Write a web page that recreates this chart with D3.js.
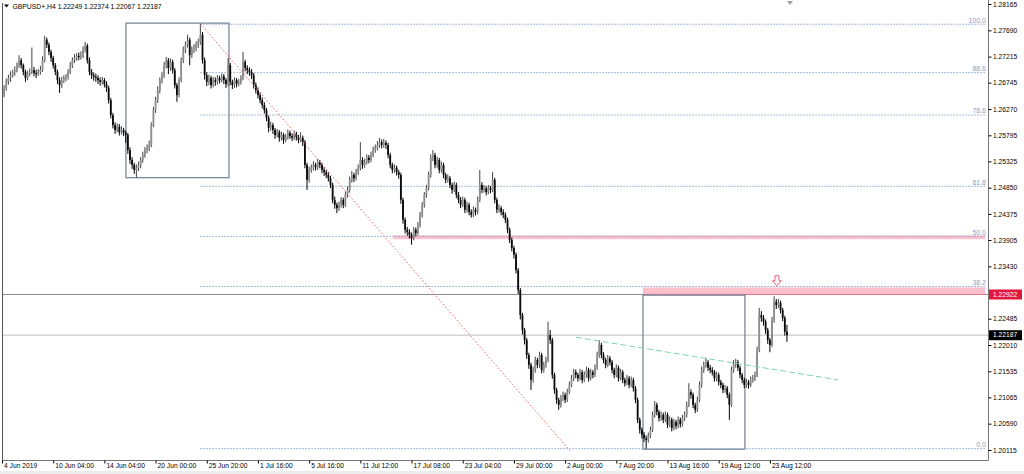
<!DOCTYPE html>
<html><head><meta charset="utf-8">
<script src="https://cdn.jsdelivr.net/npm/d3@7"></script>
<style>
html,body{margin:0;padding:0;background:#fff;}
svg{display:block;font-family:"Liberation Sans",Arial,sans-serif;}
</style></head><body>
<svg id="c" width="1024" height="474"></svg>
<script>
const symbolTitle = "GBPUSD+,H4";
const lastQuote = ["1.22249","1.22374","1.22067","1.22187"];

const opens = [
1.2641,1.2652,1.2665,1.2676,1.2683,1.2688,1.2694,1.2697,1.2705,1.2715,
1.2706,1.2694,1.2683,1.2690,1.2694,1.2697,1.2692,1.2690,1.2694,1.2697,
1.2715,1.2752,1.2743,1.2730,1.2719,1.2706,1.2694,1.2679,1.2670,1.2679,
1.2683,1.2685,1.2694,1.2706,1.2715,1.2719,1.2723,1.2721,1.2724,1.2734,
1.2741,1.2715,1.2694,1.2688,1.2685,1.2683,1.2679,1.2676,1.2679,1.2672,
1.2665,1.2643,1.2616,1.2598,1.2589,1.2595,1.2585,1.2589,1.2584,1.2580,
1.2553,1.2535,1.2526,1.2517,1.2521,1.2526,1.2535,1.2544,1.2553,1.2557,
1.2562,1.2598,1.2625,1.2643,1.2661,1.2679,1.2688,1.2706,1.2715,1.2701,
1.2712,1.2697,1.2670,1.2652,1.2679,1.2715,1.2734,1.2743,1.2752,1.2724,
1.2734,1.2737,1.2743,1.2748,1.2761,1.2715,1.2688,1.2676,1.2683,1.2670,
1.2679,1.2676,1.2683,1.2679,1.2686,1.2679,1.2672,1.2706,1.2676,1.2670,
1.2679,1.2672,1.2676,1.2683,1.2712,1.2701,1.2697,1.2694,1.2688,1.2670,
1.2661,1.2652,1.2643,1.2634,1.2625,1.2611,1.2593,1.2598,1.2589,1.2580,
1.2585,1.2575,1.2580,1.2571,1.2576,1.2584,1.2578,1.2575,1.2582,1.2576,
1.2571,1.2575,1.2567,1.2526,1.2499,1.2517,1.2521,1.2526,1.2522,1.2531,
1.2526,1.2517,1.2513,1.2508,1.2502,1.2490,1.2463,1.2454,1.2448,1.2454,
1.2463,1.2454,1.2472,1.2481,1.2499,1.2508,1.2502,1.2513,1.2521,1.2535,
1.2526,1.2531,1.2539,1.2535,1.2544,1.2553,1.2557,1.2562,1.2567,1.2562,
1.2566,1.2562,1.2544,1.2526,1.2517,1.2521,1.2513,1.2508,1.2463,1.2427,
1.2409,1.2405,1.2400,1.2394,1.2409,1.2403,1.2418,1.2436,1.2454,1.2472,
1.2484,1.2508,1.2539,1.2544,1.2526,1.2535,1.2517,1.2526,1.2508,1.2499,
1.2502,1.2490,1.2481,1.2490,1.2472,1.2463,1.2454,1.2463,1.2445,1.2454,
1.2441,1.2436,1.2445,1.2441,1.2463,1.2490,1.2481,1.2484,1.2477,1.2484,
1.2481,1.2499,1.2463,1.2445,1.2448,1.2441,1.2436,1.2427,1.2409,1.2391,
1.2376,1.2364,1.2336,1.2300,1.2255,1.2228,1.2210,1.2183,1.2165,1.2138,
1.2156,1.2174,1.2165,1.2183,1.2156,1.2165,1.2174,1.2219,1.2210,1.2147,
1.2120,1.2102,1.2093,1.2105,1.2111,1.2102,1.2116,1.2129,1.2141,1.2152,
1.2147,1.2141,1.2152,1.2138,1.2147,1.2156,1.2141,1.2152,1.2147,1.2160,
1.2183,1.2201,1.2183,1.2174,1.2165,1.2177,1.2170,1.2156,1.2147,1.2160,
1.2141,1.2152,1.2138,1.2132,1.2141,1.2129,1.2138,1.2123,1.2102,1.2066,
1.2048,1.2039,1.2033,1.2030,1.2037,1.2048,1.2075,1.2093,1.2080,1.2069,
1.2075,1.2066,1.2075,1.2057,1.2066,1.2051,1.2062,1.2055,1.2066,1.2058,
1.2069,1.2075,1.2093,1.2116,1.2111,1.2093,1.2084,1.2102,1.2129,1.2156,
1.2165,1.2170,1.2160,1.2156,1.2152,1.2141,1.2147,1.2134,1.2129,1.2120,
1.2123,1.2111,1.2093,1.2156,1.2165,1.2170,1.2160,1.2147,1.2138,1.2129,
1.2134,1.2129,1.2138,1.2141,1.2147,1.2192,1.2255,1.2250,1.2243,1.2228,
1.2210,1.2201,1.2246,1.2279,1.2273,1.2277,1.2264,1.2250,1.22249];

const highs = [
1.2665,1.2670,1.2682,1.2689,1.2695,1.2698,1.2704,1.2711,1.2724,1.2719,
1.2709,1.2698,1.2696,1.2700,1.2738,1.2703,1.2698,1.2699,1.2705,1.2722,
1.2759,1.2756,1.2747,1.2734,1.2723,1.2710,1.2698,1.2684,1.2685,1.2688,
1.2690,1.2699,1.2712,1.2720,1.2726,1.2728,1.2729,1.2731,1.2740,1.2748,
1.2745,1.2720,1.2699,1.2693,1.2691,1.2688,1.2684,1.2685,1.2683,1.2677,
1.2669,1.2647,1.2620,1.2603,1.2601,1.2600,1.2596,1.2593,1.2588,1.2584,
1.2558,1.2540,1.2530,1.2527,1.2532,1.2540,1.2550,1.2558,1.2563,1.2570,
1.2603,1.2631,1.2649,1.2668,1.2684,1.2694,1.2712,1.2721,1.2719,1.2718,
1.2716,1.2701,1.2674,1.2684,1.2720,1.2740,1.2749,1.2761,1.2756,1.2740,
1.2744,1.2749,1.2754,1.2781,1.2766,1.2720,1.2693,1.2689,1.2687,1.2685,
1.2684,1.2688,1.2687,1.2691,1.2690,1.2683,1.2719,1.2710,1.2680,1.2684,
1.2683,1.2681,1.2688,1.2730,1.2716,1.2706,1.2702,1.2699,1.2692,1.2675,
1.2666,1.2657,1.2648,1.2639,1.2629,1.2615,1.2604,1.2602,1.2593,1.2591,
1.2589,1.2586,1.2584,1.2582,1.2590,1.2588,1.2583,1.2588,1.2586,1.2580,
1.2585,1.2579,1.2571,1.2530,1.2523,1.2527,1.2533,1.2530,1.2537,1.2535,
1.2530,1.2522,1.2517,1.2513,1.2506,1.2494,1.2469,1.2458,1.2460,1.2468,
1.2467,1.2478,1.2487,1.2505,1.2515,1.2512,1.2519,1.2527,1.2567,1.2540,
1.2537,1.2545,1.2544,1.2550,1.2559,1.2563,1.2569,1.2575,1.2572,1.2573,
1.2570,1.2566,1.2548,1.2530,1.2527,1.2525,1.2517,1.2512,1.2467,1.2431,
1.2414,1.2410,1.2404,1.2414,1.2413,1.2423,1.2441,1.2459,1.2477,1.2490,
1.2514,1.2545,1.2553,1.2548,1.2541,1.2539,1.2532,1.2530,1.2512,1.2509,
1.2506,1.2494,1.2496,1.2494,1.2477,1.2468,1.2469,1.2467,1.2460,1.2458,
1.2446,1.2451,1.2449,1.2469,1.2517,1.2495,1.2490,1.2488,1.2490,1.2488,
1.2513,1.2503,1.2467,1.2455,1.2452,1.2446,1.2440,1.2431,1.2413,1.2395,
1.2380,1.2368,1.2340,1.2304,1.2259,1.2232,1.2214,1.2187,1.2169,1.2162,
1.2180,1.2178,1.2189,1.2187,1.2171,1.2180,1.2243,1.2228,1.2214,1.2151,
1.2124,1.2106,1.2111,1.2117,1.2115,1.2122,1.2135,1.2147,1.2158,1.2157,
1.2151,1.2158,1.2156,1.2153,1.2162,1.2160,1.2158,1.2156,1.2166,1.2189,
1.2210,1.2205,1.2188,1.2178,1.2183,1.2181,1.2174,1.2160,1.2166,1.2164,
1.2158,1.2156,1.2142,1.2147,1.2145,1.2144,1.2142,1.2127,1.2106,1.2070,
1.2052,1.2044,1.2038,1.2043,1.2054,1.2081,1.2100,1.2097,1.2084,1.2081,
1.2079,1.2081,1.2079,1.2072,1.2070,1.2068,1.2066,1.2072,1.2070,1.2075,
1.2081,1.2099,1.2132,1.2121,1.2115,1.2097,1.2108,1.2135,1.2162,1.2171,
1.2178,1.2174,1.2165,1.2161,1.2156,1.2153,1.2151,1.2138,1.2133,1.2129,
1.2127,1.2115,1.2162,1.2174,1.2176,1.2174,1.2164,1.2151,1.2142,1.2140,
1.2138,1.2144,1.2147,1.2153,1.2198,1.2268,1.2262,1.2255,1.2247,1.2232,
1.2214,1.2252,1.2289,1.2284,1.2284,1.2281,1.2268,1.2254,1.22374];

const lows = [
1.2638,1.2648,1.2660,1.2671,1.2676,1.2684,1.2687,1.2693,1.2701,1.2700,
1.2688,1.2676,1.2679,1.2686,1.2690,1.2686,1.2683,1.2687,1.2689,1.2694,
1.2711,1.2737,1.2724,1.2712,1.2700,1.2688,1.2672,1.2656,1.2665,1.2674,
1.2677,1.2680,1.2690,1.2701,1.2710,1.2714,1.2715,1.2716,1.2719,1.2729,
1.2709,1.2688,1.2681,1.2678,1.2676,1.2672,1.2669,1.2671,1.2666,1.2658,
1.2637,1.2610,1.2592,1.2582,1.2585,1.2579,1.2581,1.2578,1.2566,1.2546,
1.2528,1.2519,1.2510,1.2503,1.2515,1.2520,1.2530,1.2539,1.2547,1.2551,
1.2558,1.2594,1.2620,1.2638,1.2655,1.2673,1.2683,1.2700,1.2690,1.2696,
1.2691,1.2664,1.2640,1.2648,1.2675,1.2710,1.2728,1.2738,1.2706,1.2719,
1.2728,1.2731,1.2737,1.2743,1.2709,1.2680,1.2668,1.2670,1.2664,1.2666,
1.2669,1.2671,1.2673,1.2675,1.2672,1.2665,1.2668,1.2670,1.2663,1.2665,
1.2666,1.2668,1.2671,1.2679,1.2695,1.2690,1.2687,1.2681,1.2664,1.2655,
1.2646,1.2637,1.2628,1.2619,1.2605,1.2585,1.2588,1.2582,1.2573,1.2576,
1.2568,1.2570,1.2564,1.2567,1.2572,1.2573,1.2569,1.2571,1.2570,1.2565,
1.2567,1.2560,1.2520,1.2481,1.2494,1.2512,1.2516,1.2516,1.2517,1.2520,
1.2511,1.2506,1.2502,1.2496,1.2484,1.2457,1.2447,1.2439,1.2443,1.2449,
1.2448,1.2450,1.2467,1.2476,1.2494,1.2495,1.2498,1.2508,1.2516,1.2519,
1.2521,1.2527,1.2529,1.2531,1.2540,1.2548,1.2552,1.2557,1.2556,1.2557,
1.2555,1.2538,1.2520,1.2511,1.2512,1.2507,1.2501,1.2456,1.2420,1.2402,
1.2398,1.2393,1.2382,1.2390,1.2397,1.2399,1.2413,1.2431,1.2449,1.2467,
1.2480,1.2503,1.2533,1.2520,1.2521,1.2511,1.2512,1.2502,1.2493,1.2494,
1.2484,1.2474,1.2477,1.2466,1.2457,1.2448,1.2450,1.2439,1.2440,1.2435,
1.2431,1.2432,1.2435,1.2437,1.2459,1.2475,1.2476,1.2471,1.2473,1.2475,
1.2477,1.2457,1.2439,1.2440,1.2435,1.2430,1.2421,1.2403,1.2385,1.2370,
1.2357,1.2330,1.2293,1.2247,1.2220,1.2202,1.2176,1.2158,1.2120,1.2133,
1.2151,1.2159,1.2160,1.2150,1.2151,1.2160,1.2170,1.2203,1.2140,1.2113,
1.2095,1.2084,1.2088,1.2100,1.2096,1.2098,1.2112,1.2125,1.2136,1.2141,
1.2135,1.2137,1.2132,1.2134,1.2142,1.2135,1.2137,1.2141,1.2143,1.2156,
1.2178,1.2177,1.2168,1.2159,1.2161,1.2164,1.2150,1.2141,1.2143,1.2135,
1.2137,1.2132,1.2126,1.2128,1.2123,1.2125,1.2117,1.2096,1.2060,1.2041,
1.2032,1.2026,1.2014,1.2025,1.2033,1.2044,1.2070,1.2074,1.2063,1.2064,
1.2060,1.2062,1.2051,1.2053,1.2045,1.2047,1.2049,1.2051,1.2052,1.2054,
1.2064,1.2070,1.2089,1.2104,1.2087,1.2078,1.2080,1.2098,1.2124,1.2151,
1.2160,1.2154,1.2150,1.2146,1.2135,1.2136,1.2128,1.2123,1.2114,1.2115,
1.2105,1.2066,1.2089,1.2151,1.2160,1.2154,1.2141,1.2132,1.2123,1.2124,
1.2122,1.2125,1.2133,1.2136,1.2143,1.2188,1.2243,1.2236,1.2221,1.2203,
1.2188,1.2197,1.2241,1.2266,1.2268,1.2258,1.2244,1.2218,1.22067];

const closes = [
1.2652,1.2665,1.2676,1.2683,1.2688,1.2694,1.2697,1.2705,1.2715,1.2706,
1.2694,1.2683,1.2690,1.2694,1.2697,1.2692,1.2690,1.2694,1.2697,1.2715,
1.2752,1.2743,1.2730,1.2719,1.2706,1.2694,1.2679,1.2670,1.2679,1.2683,
1.2685,1.2694,1.2706,1.2715,1.2719,1.2723,1.2721,1.2724,1.2734,1.2741,
1.2715,1.2694,1.2688,1.2685,1.2683,1.2679,1.2676,1.2679,1.2672,1.2665,
1.2643,1.2616,1.2598,1.2589,1.2595,1.2585,1.2589,1.2584,1.2580,1.2553,
1.2535,1.2526,1.2517,1.2521,1.2526,1.2535,1.2544,1.2553,1.2557,1.2562,
1.2598,1.2625,1.2643,1.2661,1.2679,1.2688,1.2706,1.2715,1.2701,1.2712,
1.2697,1.2670,1.2652,1.2679,1.2715,1.2734,1.2743,1.2752,1.2724,1.2734,
1.2737,1.2743,1.2748,1.2761,1.2715,1.2688,1.2676,1.2683,1.2670,1.2679,
1.2676,1.2683,1.2679,1.2686,1.2679,1.2672,1.2706,1.2676,1.2670,1.2679,
1.2672,1.2676,1.2683,1.2712,1.2701,1.2697,1.2694,1.2688,1.2670,1.2661,
1.2652,1.2643,1.2634,1.2625,1.2611,1.2593,1.2598,1.2589,1.2580,1.2585,
1.2575,1.2580,1.2571,1.2576,1.2584,1.2578,1.2575,1.2582,1.2576,1.2571,
1.2575,1.2567,1.2526,1.2499,1.2517,1.2521,1.2526,1.2522,1.2531,1.2526,
1.2517,1.2513,1.2508,1.2502,1.2490,1.2463,1.2454,1.2448,1.2454,1.2463,
1.2454,1.2472,1.2481,1.2499,1.2508,1.2502,1.2513,1.2521,1.2535,1.2526,
1.2531,1.2539,1.2535,1.2544,1.2553,1.2557,1.2562,1.2567,1.2562,1.2566,
1.2562,1.2544,1.2526,1.2517,1.2521,1.2513,1.2508,1.2463,1.2427,1.2409,
1.2405,1.2400,1.2394,1.2409,1.2403,1.2418,1.2436,1.2454,1.2472,1.2484,
1.2508,1.2539,1.2544,1.2526,1.2535,1.2517,1.2526,1.2508,1.2499,1.2502,
1.2490,1.2481,1.2490,1.2472,1.2463,1.2454,1.2463,1.2445,1.2454,1.2441,
1.2436,1.2445,1.2441,1.2463,1.2490,1.2481,1.2484,1.2477,1.2484,1.2481,
1.2499,1.2463,1.2445,1.2448,1.2441,1.2436,1.2427,1.2409,1.2391,1.2376,
1.2364,1.2336,1.2300,1.2255,1.2228,1.2210,1.2183,1.2165,1.2138,1.2156,
1.2174,1.2165,1.2183,1.2156,1.2165,1.2174,1.2219,1.2210,1.2147,1.2120,
1.2102,1.2093,1.2105,1.2111,1.2102,1.2116,1.2129,1.2141,1.2152,1.2147,
1.2141,1.2152,1.2138,1.2147,1.2156,1.2141,1.2152,1.2147,1.2160,1.2183,
1.2201,1.2183,1.2174,1.2165,1.2177,1.2170,1.2156,1.2147,1.2160,1.2141,
1.2152,1.2138,1.2132,1.2141,1.2129,1.2138,1.2123,1.2102,1.2066,1.2048,
1.2039,1.2033,1.2030,1.2037,1.2048,1.2075,1.2093,1.2080,1.2069,1.2075,
1.2066,1.2075,1.2057,1.2066,1.2051,1.2062,1.2055,1.2066,1.2058,1.2069,
1.2075,1.2093,1.2116,1.2111,1.2093,1.2084,1.2102,1.2129,1.2156,1.2165,
1.2170,1.2160,1.2156,1.2152,1.2141,1.2147,1.2134,1.2129,1.2120,1.2123,
1.2111,1.2093,1.2156,1.2165,1.2170,1.2160,1.2147,1.2138,1.2129,1.2134,
1.2129,1.2138,1.2141,1.2147,1.2192,1.2255,1.2250,1.2243,1.2228,1.2210,
1.2201,1.2246,1.2279,1.2273,1.2277,1.2264,1.2250,1.2225,1.22187];

const timeLabels = ["4 Jun 2019","10 Jun 04:00","14 Jun 04:00","20 Jun 00:00","25 Jun 20:00","1 Jul 16:00","5 Jul 16:00","11 Jul 12:00","17 Jul 08:00","23 Jul 04:00","29 Jul 00:00","2 Aug 00:00","7 Aug 20:00","13 Aug 16:00","19 Aug 12:00","23 Aug 12:00"];
const timeLabelIndex = [0,24,48,72,96,120,144,168,192,216,240,264,288,312,336,360];
const priceTicks = [1.28165,1.27690,1.27215,1.26745,1.26270,1.25795,1.25325,1.24850,1.24375,1.23905,1.23430,1.22485,1.22010,1.21535,1.21065,1.20590,1.20115];

const fibLevels = [0.0, 38.2, 50.0, 61.8, 78.6, 88.6, 100.0];
const fibStartIndex = 93;
const fibHigh = 1.2780, fibLow = 1.2014;

const hLinePrice = 1.22922;
const bidPrice = 1.22187;

const zoneBands = [ {i0:183.3, p0:1.2392, p1:1.2399}, {i0:300.5, p0:1.2292, p1:1.2305} ];
const boxes = [ {i0:58.1, i1:106.4, p0:1.2503, p1:1.2782}, {i0:300.5, i1:348.3, p0:1.2013, p1:1.2291} ];
const redTrend = [ {i:93, p:1.2781}, {i:266.3, p:1.2010} ];
const greenTrend = [ {i:269.1, p:1.2215}, {i:392, p:1.2138} ];
const arrowMark = {i:363.3, p:1.2326};

const W = 1024, H = 474;
const svg = d3.select("#c");
const x = d3.scaleLinear().domain([0, 460.85]).range([2, 985]);
const y = d3.scaleLinear().domain([1.20115, 1.28165]).range([450, 4]);
const axisX = 988.5, axisY = 460.5;
const FS = "6.7px";

svg.append("rect").attr("x",0).attr("y",471).attr("width",W).attr("height",3).attr("fill","#ececec");

const defs = svg.append("defs");
defs.append("clipPath").attr("id","clip").append("rect").attr("x",2.5).attr("y",0).attr("width",axisX-2.5).attr("height",axisY);
const plot = svg.append("g").attr("clip-path","url(#clip)");

// zones
plot.selectAll("rect.zone").data(zoneBands).join("rect")
  .attr("x", d=>x(d.i0)).attr("width", d=>985 - x(d.i0))
  .attr("y", d=>y(d.p1)).attr("height", d=>y(d.p0)-y(d.p1))
  .attr("fill","#ffc0cb");

// bid line
plot.append("line").attr("x1",0).attr("x2",axisX).attr("y1",y(bidPrice)).attr("y2",y(bidPrice))
  .attr("stroke","#d4d4d4").attr("stroke-width",1.4);
// horizontal line
plot.append("line").attr("x1",0).attr("x2",axisX).attr("y1",y(hLinePrice)).attr("y2",y(hLinePrice))
  .attr("stroke","#8c8c8c").attr("stroke-width",1);
plot.append("line").attr("x1",x(zoneBands[1].i0)).attr("x2",985).attr("y1",y(hLinePrice)).attr("y2",y(hLinePrice))
  .attr("stroke","#e27d93").attr("stroke-width",1);

// boxes
plot.selectAll("rect.box").data(boxes).join("rect")
  .attr("x", d=>x(d.i0)).attr("width", d=>x(d.i1)-x(d.i0))
  .attr("y", d=>y(d.p1)).attr("height", d=>y(d.p0)-y(d.p1))
  .attr("fill","none").attr("stroke","#6f7f90").attr("stroke-width",1.2);

// fib lines
const fibs = fibLevels.map(l => ({l, p: fibLow + (fibHigh - fibLow) * l / 100}));
plot.selectAll("line.fib").data(fibs).join("line")
  .attr("x1", x(fibStartIndex)).attr("x2", 985)
  .attr("y1", d=>y(d.p)).attr("y2", d=>y(d.p))
  .attr("stroke","#86a9cf").attr("stroke-width",1).attr("stroke-dasharray","1.5,1.5");
plot.selectAll("text.fib").data(fibs).join("text")
  .attr("x", 986).attr("y", d=>y(d.p)-1.6).attr("text-anchor","end")
  .attr("font-size","7px").attr("fill","#7fa3cc").text(d=>d.l.toFixed(1));

// candles
const bars = closes.map((c,i)=>({i, o:opens[i], h:highs[i], l:lows[i], c}));
const cg = plot.append("g");
cg.selectAll("line").data(bars).join("line")
  .attr("x1", d=>x(d.i)).attr("x2", d=>x(d.i))
  .attr("y1", d=>y(d.h)).attr("y2", d=>y(d.l))
  .attr("stroke", d=>d.c>=d.o ? "#444" : "#000").attr("stroke-width",1);
cg.selectAll("rect").data(bars).join("rect")
  .attr("x", d=>x(d.i)-0.9).attr("width",1.8)
  .attr("y", d=>y(Math.max(d.o,d.c)))
  .attr("height", d=>Math.max(0.8, Math.abs(y(d.o)-y(d.c))))
  .attr("fill", d=>d.c>=d.o ? "#8e8e8e" : "#0a0a0a");

// trend lines
const line = d3.line().x(d=>x(d.i)).y(d=>y(d.p));
plot.append("path").attr("d", line(redTrend)).attr("fill","none")
  .attr("stroke","#f06464").attr("stroke-width",1).attr("stroke-dasharray","1.5,2");
plot.append("path").attr("d", line(greenTrend)).attr("fill","none")
  .attr("stroke","#7fd6a6").attr("stroke-width",1).attr("stroke-dasharray","6,3");

// arrow
{
  const cx = x(arrowMark.i), ty = y(arrowMark.p);
  const p = `M${cx-2},${ty} L${cx+2},${ty} L${cx+2},${ty+5} L${cx+4.5},${ty+5} L${cx},${ty+10} L${cx-4.5},${ty+5} L${cx-2},${ty+5} Z`;
  plot.append("path").attr("d",p).attr("fill","#fff").attr("stroke","#e4607a").attr("stroke-width",1);
}

// frame
svg.append("line").attr("x1",2.5).attr("x2",2.5).attr("y1",3).attr("y2",axisY).attr("stroke","#555");
svg.append("line").attr("x1",2).attr("x2",axisX).attr("y1",axisY).attr("y2",axisY).attr("stroke","#777");
svg.append("line").attr("x1",axisX).attr("x2",axisX).attr("y1",0).attr("y2",axisY).attr("stroke","#777");

// y axis
const ya = svg.append("g").attr("transform",`translate(${axisX},0)`)
  .call(d3.axisRight(y).tickValues(priceTicks).tickSize(3).tickFormat(d3.format(".5f")));
ya.select(".domain").remove();
ya.selectAll("line").attr("stroke","#000");
ya.selectAll("text").attr("x",4.5).attr("font-size",FS).attr("fill","#000").attr("font-family","Liberation Sans, Arial, sans-serif");

// price labels
function priceTag(p, bg){
  const g = svg.append("g");
  g.append("rect").attr("x",989).attr("y",y(p)-5).attr("width",33).attr("height",10).attr("fill",bg);
  g.append("text").attr("x",993).attr("y",y(p)).attr("dy","0.34em").attr("font-size",FS).attr("fill","#fff").text(p.toFixed(5));
}
priceTag(hLinePrice, "#e3173e");
priceTag(bidPrice, "#000");

// x axis
const xa = svg.append("g").attr("transform",`translate(0,${axisY})`)
  .call(d3.axisBottom(x).tickValues(timeLabelIndex).tickSize(3).tickFormat((d,k)=>timeLabels[k]));
xa.select(".domain").remove();
xa.selectAll("line").attr("stroke","#000");
xa.selectAll("text").attr("text-anchor","start").attr("x",1.5).attr("y",3).attr("dy","0.72em")
  .attr("font-size",FS).attr("fill","#000").attr("font-family","Liberation Sans, Arial, sans-serif");

// title
svg.append("path").attr("d","M4,4.5 L9,4.5 L6.5,7.5 Z").attr("fill","#000");
svg.append("text").attr("x",12.5).attr("y",9).attr("font-size","6.8px").attr("fill","#000")
  .text(symbolTitle + "  " + lastQuote.join(" "));
// chart shift marker
svg.append("path").attr("d","M787,1 L793,1 L790,5 Z").attr("fill","#a0a0a0");
</script>
</body></html>
